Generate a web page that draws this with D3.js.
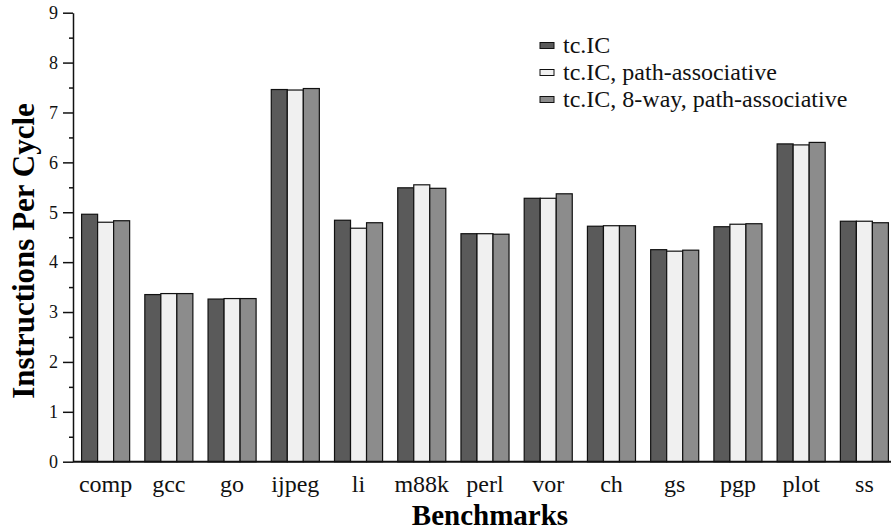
<html>
<head>
<meta charset="utf-8">
<script src="https://cdnjs.cloudflare.com/ajax/libs/d3/7.8.5/d3.min.js"></script>
<style>
  body { margin: 0; background: white; }
  text { font-family: "Liberation Serif", "Times New Roman", serif; }
</style>
</head>
<body>
<script>
var width = 891, height = 531;

// data
var benchmarks = ["comp", "gcc", "go", "ijpeg", "li", "m88k", "perl", "vor", "ch", "gs", "pgp", "plot", "ss"];
var seriesNames = ["tc.IC", "tc.IC, path-associative", "tc.IC, 8-way, path-associative"];
var tcIC      = [4.96, 3.35, 3.26, 7.46, 4.84, 5.49, 4.57, 5.28, 4.72, 4.25, 4.71, 6.37, 4.82];
var tcICPath  = [4.80, 3.37, 3.27, 7.45, 4.68, 5.55, 4.57, 5.28, 4.73, 4.22, 4.76, 6.35, 4.82];
var tcIC8Way  = [4.83, 3.37, 3.27, 7.48, 4.79, 5.48, 4.56, 5.37, 4.73, 4.24, 4.77, 6.40, 4.79];
var yTicks = [0, 1, 2, 3, 4, 5, 6, 7, 8, 9];
var colors = ["#5a5a5a", "#f0f0f0", "#8c8c8c"];

var series = [tcIC, tcICPath, tcIC8Way];

var svg = d3.select("body")
  .append("svg")
  .attr("width", width)
  .attr("height", height);

// plot area (note: "top" is reserved on window, so use plot* names)
var plotLeft = 73, plotRight = 896, plotTop = 12.7, plotBottom = 461.7;

var x = d3.scaleBand()
  .domain(benchmarks)
  .range([plotLeft + 1, plotRight])
  .paddingInner(0.24)
  .paddingOuter(0.12);

var xInner = d3.scaleBand()
  .domain(d3.range(series.length))
  .range([0, x.bandwidth()]);

var y = d3.scaleLinear()
  .domain([0, 9])
  .range([plotBottom, plotTop]);

// bars
var groups = svg.selectAll(".group")
  .data(benchmarks)
  .enter()
  .append("g")
  .attr("transform", function(d) { return "translate(" + x(d) + ",0)"; });

groups.selectAll("rect")
  .data(function(d, i) { return series.map(function(s, k) { return {k: k, v: s[i]}; }); })
  .enter()
  .append("rect")
  .attr("x", function(d) { return xInner(d.k); })
  .attr("width", xInner.bandwidth())
  .attr("y", function(d) { return y(d.v); })
  .attr("height", function(d) { return plotBottom - y(d.v); })
  .attr("fill", function(d) { return colors[d.k]; })
  .attr("stroke", "#111")
  .attr("stroke-width", 1.2);

// y axis with minor ticks
var yAxis = svg.append("g")
  .attr("transform", "translate(" + plotLeft + ",0)")
  .call(d3.axisLeft(y).tickValues(yTicks).tickSize(10).tickPadding(5).tickSizeOuter(0));

svg.append("g")
  .attr("transform", "translate(" + plotLeft + ",0)")
  .call(d3.axisLeft(y).tickValues(d3.range(0.5, 9, 1)).tickSize(4).tickFormat("").tickSizeOuter(0))
  .select(".domain").remove();

yAxis.selectAll(".tick text")
  .style("font-size", "18px")
  .attr("fill", "#111");
yAxis.select(".domain").attr("stroke", "#111").attr("stroke-width", 1.5);
svg.selectAll(".tick line").attr("stroke", "#111").attr("stroke-width", 1.5);

// x axis
var xAxis = svg.append("g")
  .attr("transform", "translate(0," + plotBottom + ")")
  .call(d3.axisBottom(x).tickSize(0).tickPadding(13).tickSizeOuter(0));

xAxis.select(".domain")
  .attr("d", "M" + plotLeft + ",0H" + width)
  .attr("stroke", "#111")
  .attr("stroke-width", 2);

xAxis.selectAll(".tick text")
  .style("font-size", "24px")
  .attr("fill", "#111");

// axis titles
svg.append("text")
  .attr("x", 490)
  .attr("y", 525)
  .attr("text-anchor", "middle")
  .style("font-size", "29px")
  .style("font-weight", "bold")
  .text("Benchmarks");

svg.append("text")
  .attr("transform", "translate(33.5,251) rotate(-90)")
  .attr("text-anchor", "middle")
  .style("font-size", "31px")
  .style("font-weight", "bold")
  .text("Instructions Per Cycle");

// legend
var legend = svg.append("g")
  .attr("transform", "translate(540,45)");

var rows = legend.selectAll("g")
  .data(seriesNames)
  .enter()
  .append("g")
  .attr("transform", function(d, i) { return "translate(0," + (i * 27) + ")"; });

rows.append("rect")
  .attr("x", 0)
  .attr("y", -2.5)
  .attr("width", 14)
  .attr("height", 6)
  .attr("fill", function(d, i) { return colors[i]; })
  .attr("stroke", "#111")
  .attr("stroke-width", 1);

rows.append("text")
  .attr("x", 23)
  .attr("y", 8)
  .style("font-size", "24px")
  .attr("fill", "#111")
  .text(function(d) { return d; });
</script>
</body>
</html>
